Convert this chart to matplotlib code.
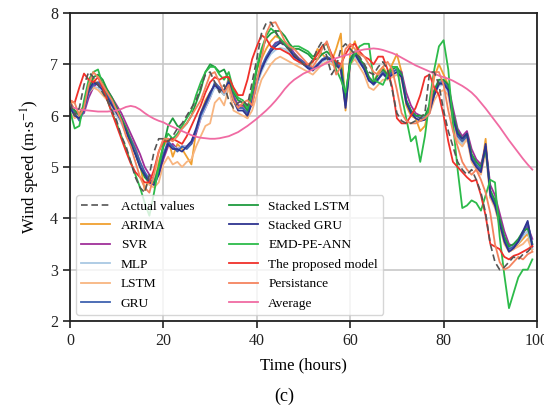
import numpy as np
import matplotlib
matplotlib.use("Agg")
import matplotlib.pyplot as plt

plt.rcParams['font.family'] = ['Liberation Serif', 'DejaVu Serif']
plt.rcParams['mathtext.fontset'] = 'stix'

hours = list(range(100))

actual = [6.25, 6.00, 6.15, 6.60, 6.85, 6.75, 6.60, 6.45, 6.30, 6.10,
          5.90, 5.60, 5.40, 5.10, 4.80, 4.60, 4.50, 4.85, 5.30, 5.55,
          5.55, 5.50, 5.60, 5.75, 5.85, 6.00, 6.15, 6.30, 6.55, 6.80,
          6.85, 6.65, 6.45, 6.60, 6.30, 6.15, 6.25, 6.30, 6.20, 6.65,
          7.10, 7.60, 7.80, 7.82, 7.65, 7.45, 7.35, 7.30, 7.20, 7.10,
          7.00, 6.95, 7.10, 7.30, 7.45, 7.15, 6.80, 6.95, 7.30, 7.40,
          7.30, 7.20, 7.15, 7.00, 6.85, 6.80, 6.95, 7.05, 6.90, 6.50,
          6.05, 5.90, 5.85, 5.85, 5.90, 5.95, 6.05, 6.85, 6.85, 6.60,
          6.10, 5.70, 5.40, 5.10, 4.95, 4.85, 4.95, 4.75, 4.50, 4.10,
          3.50, 3.15, 3.00, 3.05, 3.15, 3.25, 3.20, 3.30, 3.35, 3.45]

arima = [6.30, 6.10, 6.05, 6.20, 6.55, 6.70, 6.60, 6.65, 6.45, 6.30,
         6.15, 5.95, 5.80, 5.55, 5.40, 5.05, 4.55, 4.80, 4.65, 5.10,
         5.40, 5.55, 5.20, 5.45, 5.35, 5.20, 5.05, 5.70, 6.05, 6.30,
         6.45, 6.60, 6.50, 6.40, 6.75, 6.30, 6.15, 6.20, 5.95, 6.40,
         6.90, 7.10, 7.30, 7.45, 7.55, 7.50, 7.40, 7.25, 7.15, 7.05,
         7.00, 6.95, 7.05, 7.30, 7.20, 7.10, 7.05, 7.30, 7.60, 6.10,
         7.20, 7.45, 7.10, 6.95, 6.70, 6.65, 6.85, 6.95, 6.80, 7.00,
         7.20, 6.85, 6.20, 6.00, 5.95, 5.70, 5.80, 6.20, 6.75, 7.00,
         6.80, 6.60, 5.95, 5.70, 5.45, 5.65, 5.20, 5.00, 4.90, 5.55,
         4.40, 4.35, 3.90, 3.55, 3.35, 3.40, 3.50, 3.60, 3.70, 3.40]

svr = [6.25, 6.10, 6.00, 6.05, 6.35, 6.55, 6.65, 6.60, 6.50, 6.35,
       6.20, 6.05, 5.85, 5.65, 5.45, 5.25, 5.00, 4.85, 4.75, 4.85,
       5.15, 5.40, 5.45, 5.35, 5.40, 5.40, 5.45, 5.65, 5.95, 6.15,
       6.35, 6.60, 6.55, 6.45, 6.65, 6.40, 6.20, 6.20, 6.10, 6.25,
       6.60, 6.90, 7.10, 7.30, 7.42, 7.45, 7.42, 7.35, 7.22, 7.12,
       7.05, 6.98, 6.92, 6.98, 7.08, 7.12, 7.10, 7.02, 6.95, 6.30,
       7.00, 7.20, 7.08, 6.98, 6.75, 6.65, 6.72, 6.85, 6.78, 6.85,
       6.90, 6.85, 6.45, 6.20, 6.05, 6.00, 5.98, 6.05, 6.40, 6.62,
       6.68, 6.60, 6.15, 5.75, 5.60, 5.70, 5.35, 5.15, 5.05, 5.40,
       4.65, 4.45, 4.10, 3.75, 3.50, 3.45, 3.55, 3.70, 3.85, 3.60]

mlp = [6.15, 6.05, 6.00, 6.15, 6.45, 6.55, 6.55, 6.45, 6.30, 6.15,
       6.00, 5.85, 5.65, 5.45, 5.25, 5.05, 4.90, 4.78, 4.75, 4.95,
       5.25, 5.45, 5.40, 5.35, 5.40, 5.40, 5.50, 5.70, 5.95, 6.15,
       6.35, 6.55, 6.50, 6.40, 6.55, 6.30, 6.15, 6.15, 6.05, 6.25,
       6.60, 6.85, 7.05, 7.20, 7.28, 7.32, 7.30, 7.22, 7.12, 7.05,
       7.00, 6.92, 6.88, 6.95, 7.05, 7.10, 7.05, 6.98, 6.92, 6.35,
       7.00, 7.15, 7.02, 6.92, 6.72, 6.65, 6.72, 6.80, 6.72, 6.80,
       6.85, 6.75, 6.30, 6.10, 6.00, 5.98, 5.98, 6.10, 6.40, 6.58,
       6.60, 6.45, 5.95, 5.55, 5.45, 5.55, 5.15, 5.00, 4.92, 5.30,
       4.45, 4.25, 3.92, 3.60, 3.42, 3.45, 3.52, 3.65, 3.75, 3.40]

lstm = [6.05, 5.95, 6.00, 6.20, 6.45, 6.55, 6.50, 6.40, 6.30, 6.20,
        6.05, 5.95, 5.75, 5.55, 5.35, 5.10, 4.85, 4.65, 4.60, 4.70,
        5.05, 5.20, 5.05, 5.10, 5.00, 5.10, 5.15, 5.40, 5.60, 5.80,
        5.85, 6.25, 6.35, 6.20, 6.55, 6.10, 6.05, 6.00, 5.95, 6.10,
        6.40, 6.70, 6.85, 7.00, 7.10, 7.15, 7.10, 7.05, 7.00, 6.95,
        6.90, 6.85, 6.80, 6.90, 7.00, 7.05, 7.00, 6.95, 6.90, 6.15,
        7.00, 7.10, 6.95, 6.80, 6.55, 6.50, 6.60, 6.70, 6.70, 6.75,
        6.80, 6.70, 6.25, 6.05, 5.95, 5.90, 5.92, 6.05, 6.30, 6.45,
        6.50, 6.40, 5.85, 5.50, 5.40, 5.55, 5.10, 4.95, 4.85, 5.30,
        4.40, 4.20, 3.85, 3.50, 3.35, 3.40, 3.45, 3.50, 3.60, 3.35]

gru = [6.20, 6.05, 5.90, 6.10, 6.45, 6.60, 6.65, 6.55, 6.40, 6.25,
       6.10, 5.95, 5.75, 5.55, 5.35, 5.10, 4.90, 4.75, 4.70, 4.90,
       5.25, 5.50, 5.40, 5.30, 5.40, 5.35, 5.45, 5.70, 6.00, 6.20,
       6.40, 6.65, 6.55, 6.45, 6.70, 6.35, 6.15, 6.15, 6.05, 6.30,
       6.70, 6.95, 7.15, 7.30, 7.40, 7.45, 7.40, 7.30, 7.20, 7.10,
       7.05, 6.95, 6.90, 7.00, 7.10, 7.15, 7.10, 7.00, 6.95, 6.20,
       7.10, 7.25, 7.05, 6.95, 6.70, 6.60, 6.70, 6.85, 6.75, 6.85,
       6.90, 6.80, 6.30, 6.10, 6.00, 5.95, 5.95, 6.10, 6.45, 6.65,
       6.65, 6.55, 6.00, 5.60, 5.50, 5.60, 5.20, 5.05, 4.95, 5.40,
       4.50, 4.30, 3.95, 3.60, 3.40, 3.45, 3.55, 3.70, 3.92, 3.50]

stacked_lstm = [6.20, 6.10, 6.00, 6.20, 6.55, 6.75, 6.80, 6.70, 6.50, 6.35,
                6.15, 5.95, 5.75, 5.50, 5.25, 5.00, 4.80, 4.70, 4.70, 5.00,
                5.40, 5.80, 5.95, 5.80, 5.75, 5.85, 6.00, 6.25, 6.50, 6.85,
                7.00, 6.95, 6.85, 6.90, 6.70, 6.45, 6.30, 6.25, 6.10, 6.45,
                6.90, 7.25, 7.50, 7.60, 7.65, 7.65, 7.55, 7.40, 7.30, 7.30,
                7.25, 7.20, 7.10, 7.10, 7.20, 7.25, 7.15, 7.05, 7.00, 6.35,
                7.10, 7.25, 7.10, 7.00, 6.75, 6.65, 6.80, 6.90, 6.80, 6.90,
                6.95, 6.80, 6.30, 6.10, 6.00, 6.00, 6.00, 6.20, 6.50, 6.70,
                6.70, 6.60, 6.05, 5.70, 5.55, 5.65, 5.25, 5.10, 5.00, 5.35,
                4.55, 4.35, 4.00, 3.65, 3.45, 3.50, 3.60, 3.75, 3.80, 3.50]

stacked_gru = [6.15, 6.00, 5.95, 6.15, 6.50, 6.65, 6.60, 6.50, 6.35, 6.20,
               6.05, 5.90, 5.70, 5.45, 5.25, 5.00, 4.85, 4.70, 4.65, 4.85,
               5.20, 5.45, 5.35, 5.35, 5.30, 5.40, 5.50, 5.75, 6.05, 6.25,
               6.45, 6.60, 6.50, 6.50, 6.65, 6.30, 6.10, 6.10, 6.00, 6.25,
               6.65, 6.90, 7.10, 7.25, 7.35, 7.42, 7.38, 7.28, 7.15, 7.08,
               7.00, 6.92, 6.88, 6.98, 7.08, 7.12, 7.08, 6.98, 6.90, 6.15,
               7.05, 7.20, 7.05, 6.90, 6.68, 6.62, 6.72, 6.82, 6.72, 6.80,
               6.85, 6.75, 6.25, 6.05, 5.95, 5.90, 5.92, 6.08, 6.40, 6.62,
               6.62, 6.50, 5.95, 5.65, 5.55, 5.65, 5.15, 5.00, 4.90, 5.45,
               4.45, 4.25, 3.90, 3.55, 3.35, 3.42, 3.55, 3.75, 3.95, 3.45]

emd_pe_ann = [6.10, 5.75, 5.80, 6.30, 6.70, 6.85, 6.90, 6.60, 6.30, 6.05,
              5.85, 5.60, 5.35, 5.10, 4.85, 4.60, 4.30, 4.05, 4.50, 5.00,
              5.45, 5.65, 5.55, 5.65, 5.80, 5.95, 6.10, 6.40, 6.65, 6.85,
              6.95, 6.95, 6.80, 6.70, 6.85, 6.50, 6.35, 6.30, 6.15, 6.50,
              6.95, 7.30, 7.55, 7.70, 7.62, 7.50, 7.40, 7.30, 7.35, 7.35,
              7.30, 7.25, 7.15, 7.20, 7.35, 7.40, 7.15, 6.90, 6.70, 6.45,
              7.00, 7.20, 7.35, 7.40, 7.40, 6.70, 6.65, 6.60, 6.80, 6.95,
              6.95, 6.40, 5.95, 5.50, 5.60, 5.10, 5.60, 6.30, 6.90, 7.35,
              7.47, 6.90, 5.85, 4.95, 4.20, 4.25, 4.35, 4.30, 4.15, 4.45,
              4.75, 4.70, 3.65, 2.90, 2.25, 2.55, 2.85, 3.00, 3.00, 3.20]

proposed = [6.30, 6.25, 6.55, 6.82, 6.70, 6.65, 6.75, 6.55, 6.30, 6.05,
            5.80, 5.55, 5.30, 5.07, 4.90, 4.80, 4.70, 4.70, 4.95, 5.30,
            5.50, 5.50, 5.55, 5.50, 5.45, 5.60, 5.80, 6.00, 6.20, 6.45,
            6.65, 6.75, 6.70, 6.75, 6.75, 6.55, 6.40, 6.40, 6.70, 7.10,
            7.35, 7.57, 7.50, 7.35, 7.30, 7.30, 7.25, 7.20, 7.10, 7.05,
            7.00, 7.00, 7.05, 7.20, 7.35, 7.42, 7.20, 7.05, 7.00, 7.20,
            7.35, 7.40, 7.25, 7.15, 7.10, 7.00, 7.15, 7.15, 6.90, 6.55,
            5.95, 5.85, 5.85, 6.00, 6.15, 6.40, 6.75, 6.80, 6.55, 6.40,
            6.00, 5.50, 5.10, 5.00, 4.90, 4.80, 4.72, 4.75, 4.45, 4.05,
            3.50, 3.45, 3.40, 3.25, 3.20, 3.27, 3.30, 3.35, 3.40, 3.46]

persistance = [6.30, 6.25, 6.00, 6.15, 6.60, 6.85, 6.75, 6.60, 6.45, 6.30,
               6.10, 5.90, 5.60, 5.40, 5.10, 4.80, 4.60, 4.50, 4.85, 5.30,
               5.55, 5.55, 5.50, 5.60, 5.75, 5.85, 6.00, 6.15, 6.30, 6.55,
               6.80, 6.85, 6.65, 6.45, 6.60, 6.30, 6.15, 6.25, 6.30, 6.20,
               6.65, 7.10, 7.60, 7.80, 7.82, 7.65, 7.45, 7.35, 7.30, 7.20,
               7.10, 7.00, 6.95, 7.10, 7.30, 7.45, 7.15, 6.80, 6.95, 7.30,
               7.40, 7.30, 7.20, 7.15, 7.00, 6.85, 6.80, 6.95, 7.05, 6.90,
               6.50, 6.05, 5.90, 5.85, 5.85, 5.90, 5.95, 6.05, 6.85, 6.85,
               6.60, 6.10, 5.70, 5.40, 5.10, 4.95, 4.85, 4.95, 4.75, 4.50,
               4.10, 3.50, 3.15, 3.00, 3.05, 3.15, 3.25, 3.20, 3.30, 3.35]

average = [6.17, 6.15, 6.12, 6.11, 6.10, 6.09, 6.08, 6.08, 6.08, 6.09,
           6.10, 6.13, 6.17, 6.19, 6.17, 6.12, 6.05, 5.99, 5.94, 5.90,
           5.87, 5.82, 5.78, 5.74, 5.70, 5.66, 5.62, 5.59, 5.57, 5.56,
           5.55, 5.55, 5.56, 5.58, 5.60, 5.64, 5.68, 5.74, 5.80, 5.87,
           5.94, 6.02, 6.10, 6.19, 6.29, 6.40, 6.52, 6.62, 6.70, 6.76,
           6.82, 6.86, 6.90, 6.94, 6.98, 7.03, 7.08, 7.12, 7.15, 7.18,
           7.20, 7.24, 7.27, 7.29, 7.30, 7.31, 7.30, 7.28, 7.25, 7.22,
           7.18, 7.13, 7.08, 7.03, 6.98, 6.94, 6.90, 6.86, 6.82, 6.78,
           6.75, 6.72, 6.68, 6.63, 6.58, 6.52, 6.45, 6.36, 6.25, 6.14,
           6.02, 5.90, 5.78, 5.65, 5.52, 5.40, 5.28, 5.16, 5.05, 4.95]

labels = ["Actual values", "ARIMA", "SVR", "MLP", "LSTM", "GRU",
          "Stacked LSTM", "Stacked GRU", "EMD-PE-ANN", "The proposed model",
          "Persistance", "Average"]
series = [actual, arima, svr, mlp, lstm, gru, stacked_lstm, stacked_gru,
          emd_pe_ann, proposed, persistance, average]
colors = ["#555555", "#f0a030", "#a0309a", "#a9c8e3", "#f8b580", "#3f62b0",
          "#1f9b3f", "#2e3490", "#2cbb4a", "#f0302a", "#f4845f", "#f06ba3"]

fig = plt.figure(figsize=(5.44, 4.15), dpi=100)
ax = fig.add_axes([70/544, 1-321/415, (537-70)/544, (321-13)/415])

for lab, ys, c in zip(labels, series, colors):
    if lab == "Actual values":
        ax.plot(hours, ys, color=c, lw=1.2, ls=(0, (4, 2.2)), label=lab, zorder=3)
    else:
        ax.plot(hours, ys, color=c, lw=1.3, label=lab, zorder=2)

ax.set_xlim(0, 100)
ax.set_ylim(2, 8)
ax.set_xticks([0, 20, 40, 60, 80, 100])
ax.set_yticks([2, 3, 4, 5, 6, 7, 8])
ax.grid(True, color="#c8c8c8", lw=1.2, zorder=0)
ax.set_axisbelow(True)
for s in ax.spines.values():
    s.set_linewidth(1.3)
    s.set_color("#222222")
ax.tick_params(axis='both', direction='out', length=5, width=1.2, labelsize=11.5, colors="#222222")

ax.set_xlabel("Time (hours)", fontsize=12, labelpad=6)
ax.set_ylabel(r"Wind speed (m$\cdot$s$^{-1}$)", fontsize=12, labelpad=6)

leg = ax.legend(ncol=2, loc="lower left", bbox_to_anchor=(0.0, 0.0), fontsize=9.6,
                frameon=True, fancybox=True, framealpha=0.8, edgecolor="#cccccc",
                handlelength=2.15, labelspacing=0.53, columnspacing=2.6,
                borderpad=0.4, handletextpad=0.8, borderaxespad=0.45)

fig.text(0.522, 0.045, "(c)", fontsize=13, ha="center", va="center")

fig.savefig("out.png", dpi=100)
